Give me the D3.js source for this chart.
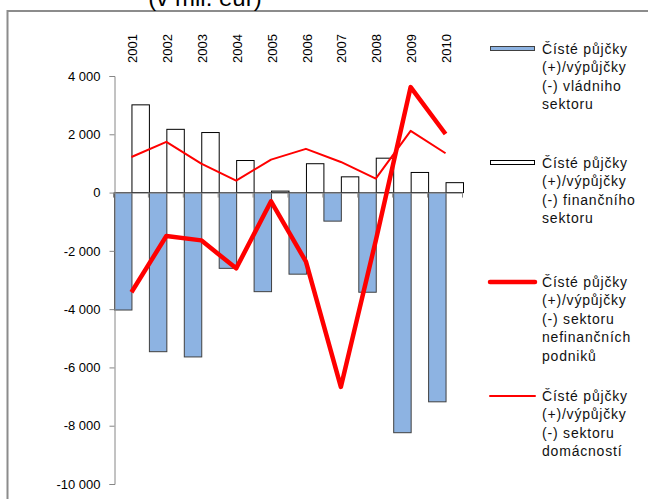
<!DOCTYPE html>
<html>
<head>
<meta charset="utf-8">
<script src="https://cdn.jsdelivr.net/npm/d3@7"></script>
<style>
  body { margin: 0; background: #fff; }
  svg { display: block; font-family: Arial, "Liberation Sans", sans-serif; }
</style>
</head>
<body>
<div id="chart"></div>
<script>
const width = 648;
const height = 499;

// data (v mil. eur)
const years = ["2001", "2002", "2003", "2004", "2005", "2006", "2007", "2008", "2009", "2010"];
const vladni = [-4030, -5460, -5640, -2600, -3400, -2800, -980, -3420, -8240, -7180];
const financni = [3010, 2170, 2060, 1100, 50, 990, 540, 1180, 690, 340];
const nefinancni = [-3420, -1490, -1640, -2600, -300, -2370, -6670, -1650, 3620, 2010];
const domacnosti = [1220, 1740, 990, 410, 1130, 1500, 1050, 480, 2120, 1350];
const yTicks = [4000, 2000, 0, -2000, -4000, -6000, -8000, -10000];

const legendItems = [
  { type: "bar", fill: "#8DB3E2", stroke: "#404040",
    lines: ["Čísté půjčky", "(+)/výpůjčky", "(-) vládniho", "sektoru"] },
  { type: "bar", fill: "#fff", stroke: "#000",
    lines: ["Čísté půjčky", "(+)/výpůjčky", "(-) finančního", "sektoru"] },
  { type: "line", width: 4.5,
    lines: ["Čísté půjčky", "(+)/výpůjčky", "(-) sektoru", "nefinančních", "podniků"] },
  { type: "line", width: 2,
    lines: ["Čísté půjčky", "(+)/výpůjčky", "(-) sektoru", "domácností"] }
];

const svg = d3.select("#chart")
  .append("svg")
  .attr("width", width)
  .attr("height", height);

// outer frame (runs off the right and bottom edge)
svg.append("rect")
  .attr("x", 7.5)
  .attr("y", 11)
  .attr("width", 700)
  .attr("height", 600)
  .attr("fill", "none")
  .attr("stroke", "#8c8c8c")
  .attr("stroke-width", 2);

// title, clipped by the top edge
svg.append("text")
  .attr("x", 205)
  .attr("y", 6)
  .attr("text-anchor", "middle")
  .style("font-size", "24px")
  .attr("fill", "#000")
  .text("(v mil. eur)");

const x = d3.scaleBand()
  .domain(years)
  .range([114, 463])
  .padding(0);

const y = d3.scaleLinear()
  .domain([-10000, 4000])
  .range([484, 76]);

const bw = x.bandwidth();

// bars
svg.selectAll(".bar-vl")
  .data(years)
  .enter().append("rect")
  .attr("class", "bar-vl")
  .attr("x", (d) => x(d) + 0.5)
  .attr("width", bw / 2)
  .attr("y", (d, i) => y(Math.max(0, vladni[i])))
  .attr("height", (d, i) => Math.abs(y(vladni[i]) - y(0)))
  .attr("fill", "#8DB3E2")
  .attr("stroke", "#404040")
  .attr("stroke-width", 1);

svg.selectAll(".bar-fin")
  .data(years)
  .enter().append("rect")
  .attr("class", "bar-fin")
  .attr("x", (d) => x(d) + bw / 2 + 0.5)
  .attr("width", bw / 2)
  .attr("y", (d, i) => y(Math.max(0, financni[i])))
  .attr("height", (d, i) => Math.abs(y(financni[i]) - y(0)))
  .attr("fill", "#fff")
  .attr("stroke", "#000")
  .attr("stroke-width", 1);

// y axis
const locale = d3.formatLocale({ decimal: ",", thousands: " ", grouping: [3], currency: ["", ""], minus: "-" });
const yAxis = d3.axisLeft(y)
  .tickValues(yTicks)
  .tickSize(5)
  .tickPadding(9)
  .tickFormat(locale.format(",d"));

const yg = svg.append("g")
  .attr("transform", "translate(114.5,0)")
  .call(yAxis);
yg.selectAll("path, line").attr("stroke", "#868686");
yg.selectAll("text")
  .style("font-size", "13px")
  .attr("fill", "#000");

// category axis along zero
svg.append("line")
  .attr("x1", 114)
  .attr("x2", 463)
  .attr("y1", y(0) + 0.5)
  .attr("y2", y(0) + 0.5)
  .attr("stroke", "#868686");

svg.selectAll(".xtick")
  .data(years.concat(["end"]))
  .enter().append("line")
  .attr("class", "xtick")
  .attr("x1", (d) => (d === "end" ? 463 : x(d)) - 0.5)
  .attr("x2", (d) => (d === "end" ? 463 : x(d)) - 0.5)
  .attr("y1", y(0))
  .attr("y2", y(0) + 5)
  .attr("stroke", "#868686");

// year labels at the top, rotated
svg.selectAll(".year")
  .data(years)
  .enter().append("text")
  .attr("class", "year")
  .attr("transform", (d) => `translate(${x(d) + bw / 2 + 1},63) rotate(-90)`)
  .attr("dy", "0.35em")
  .attr("text-anchor", "start")
  .style("font-size", "13px")
  .attr("fill", "#000")
  .text((d) => d);

// lines
const line = d3.line()
  .x((d, i) => x(years[i]) + bw / 2)
  .y((d) => y(d));

svg.append("path")
  .datum(nefinancni)
  .attr("d", line)
  .attr("fill", "none")
  .attr("stroke", "#FF0000")
  .attr("stroke-width", 4.5)
  .attr("stroke-linejoin", "round");

svg.append("path")
  .datum(domacnosti)
  .attr("d", line)
  .attr("fill", "none")
  .attr("stroke", "#FF0000")
  .attr("stroke-width", 2)
  .attr("stroke-linejoin", "round");

// legend
const legendTop = [49, 163, 282, 396];
const lineHeight = 18.5;

const legend = svg.append("g").attr("class", "legend");

legendItems.forEach((item, k) => {
  const g = legend.append("g")
    .attr("transform", `translate(0,${legendTop[k]})`);

  if (item.type === "bar") {
    g.append("rect")
      .attr("x", 490.5)
      .attr("y", -2.5)
      .attr("width", 44)
      .attr("height", 4)
      .attr("fill", item.fill)
      .attr("stroke", item.stroke);
  } else {
    g.append("line")
      .attr("x1", 490)
      .attr("x2", 535)
      .attr("y1", 0)
      .attr("y2", 0)
      .attr("stroke", "#FF0000")
      .attr("stroke-width", item.width)
      .attr("stroke-linecap", "round");
  }

  g.selectAll("text")
    .data(item.lines)
    .enter().append("text")
    .attr("x", 542)
    .attr("y", (d, i) => i * lineHeight)
    .attr("dy", "0.35em")
    .style("font-size", "14px")
    .style("letter-spacing", "0.8px")
    .attr("fill", "#111")
    .text((d) => d);
});
</script>
</body>
</html>
